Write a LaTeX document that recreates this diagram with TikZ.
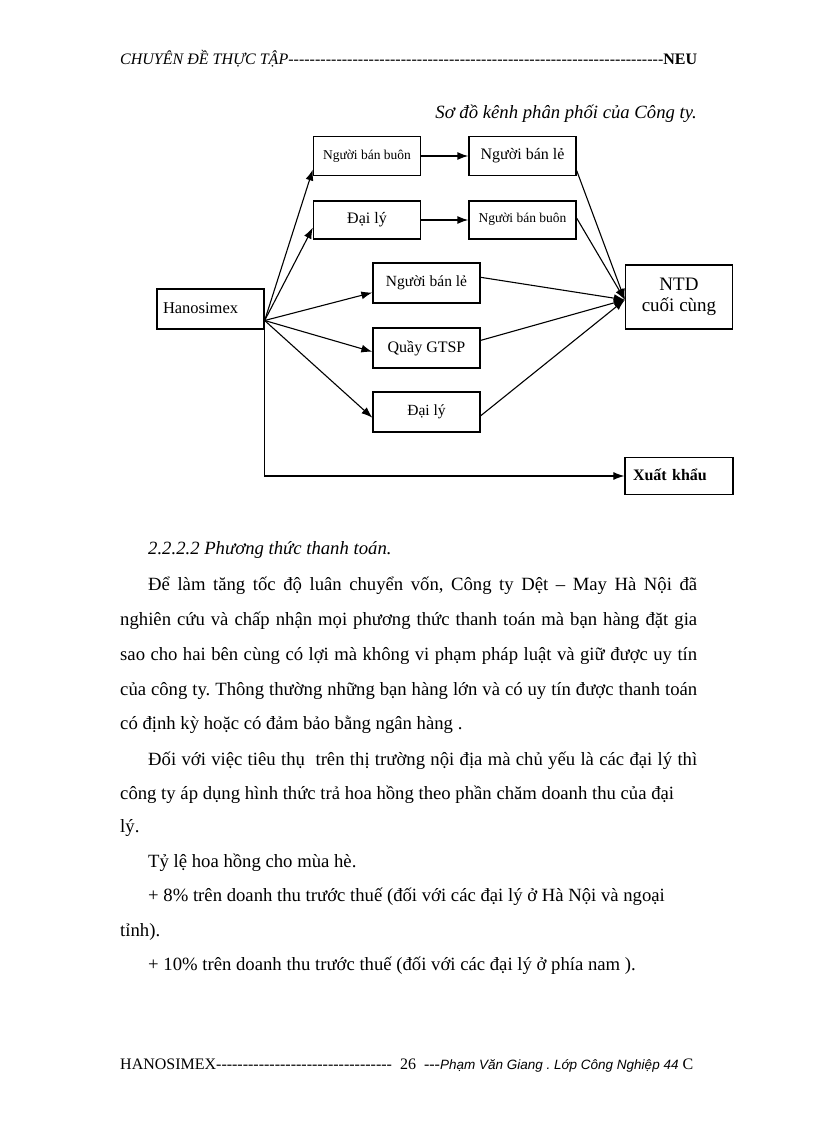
\documentclass[tikz,border=0pt]{standalone}
\usepackage{fontspec}
\setmainfont{Liberation Serif}
\newfontfamily\footsans{Liberation Sans}
\usetikzlibrary{arrows.meta}
\frenchspacing

\tikzset{
  kenh/.style={draw, line width=1.3pt, minimum width=107pt, minimum height=39pt, inner sep=2pt},
  dong/.style={-{Latex[length=11pt,width=8pt]}, line width=1.1pt},
  dong thang/.style={dong, line width=1.3pt},
  chu/.style={anchor=base west, inner sep=0pt, font=\fontsize{18.7}{21}\selectfont},
}

\begin{document}
\begin{tikzpicture}[x=1pt, y=-1pt]
  \useasboundingbox (0,0) rectangle (816,1123);

  % Đầu trang
  \node[anchor=base west, inner sep=0pt, font=\fontsize{16}{18}\selectfont] (dau) at (120,65)
    {\makebox[577pt]{\textit{CHUYÊN ĐỀ THỰC TẬP}\xleaders\hbox{\textit{-}}\hfill\textbf{NEU}}};

  % Tiêu đề sơ đồ
  \node[anchor=base east, inner sep=0pt, font=\fontsize{18.7}{21}\selectfont\itshape] (tieude) at (697,119)
    {Sơ đồ kênh phân phối của Công ty.};

  % Các kênh
  \node[kenh, font=\fontsize{13.5}{15}\selectfont, minimum height=39pt] (A) at (367,156) {Người bán buôn};
  \node[kenh, font=\fontsize{16}{18}\selectfont, minimum height=39pt] (B) at (522.5,156) {Người bán lẻ};
  \node[kenh, font=\fontsize{16}{18}\selectfont, minimum height=38pt] (C) at (367,220) {Đại lý};
  \node[kenh, font=\fontsize{13.5}{15}\selectfont, minimum height=38pt] (D) at (522.5,220) {\raisebox{4pt}{Người bán buôn}};
  \node[kenh, font=\fontsize{15.5}{17}\selectfont, minimum height=40pt] (E) at (426.5,283) {\raisebox{2pt}{Người bán lẻ}};
  \node[kenh, font=\fontsize{16}{18}\selectfont, minimum height=40pt] (F) at (426.5,348) {Quầy GTSP};
  \node[kenh, font=\fontsize{15.5}{17}\selectfont, minimum height=40pt] (G) at (426.5,412) {Đại lý};
  \node[kenh, font=\fontsize{16.5}{18}\selectfont, minimum height=40pt, text width=95pt, align=left] (H) at (210.5,309) {\raisebox{2pt}{Hanosimex}};
  \node[kenh, font=\fontsize{19}{21}\selectfont, minimum height=64pt, align=center] (N) at (679,297) {NTD\\cuối cùng};
  \node[kenh, font=\fontsize{16}{18}\selectfont\bfseries, minimum width=108pt, minimum height=37pt, text width=92pt, align=left] (X) at (679,476) {\raisebox{2pt}{Xuất khẩu}};

  % Từ Hanosimex
  \draw[dong] (H.-12) -- (A.194);
  \draw[dong] (H.-12) -- (C.188);
  \draw[dong] (H.-12) -- (E.190);
  \draw[dong] (H.-12) -- (F.184);
  \draw[dong] (H.-12) -- (G.186);
  \draw[dong thang] (A.east) -- (B.west);
  \draw[dong thang] (C.east) -- (D.west);

  % Tới người tiêu dùng
  \draw[dong] (B.-15) -- (N.183);
  \draw[dong] (D.2) -- (N.183);
  \draw[dong] (E.6) -- (N.183);
  \draw[dong] (F.8) -- (N.183);
  \draw[dong] (G.-4) -- (N.183);

  % Xuất khẩu
  \draw[dong] (H.south east) |- (X.west);

  % Nội dung
  \node[chu, font=\fontsize{18.7}{21}\selectfont\itshape] (l1) at (148,554) {2.2.2.2 Phương thức thanh toán.};
  \node[chu] (l2) at (148,590) {\makebox[549pt][s]{Để làm tăng tốc độ luân chuyển vốn, Công ty Dệt – May Hà Nội đã}};
  \node[chu] (l3) at (120,625) {\makebox[577pt][s]{nghiên cứu và chấp nhận mọi phương thức thanh toán mà bạn hàng đặt gia}};
  \node[chu] (l4) at (120,660) {\makebox[577pt][s]{sao cho hai bên cùng có lợi mà không vi phạm pháp luật và giữ được uy tín}};
  \node[chu] (l5) at (120,695) {\makebox[577pt][s]{của công ty. Thông thường những bạn hàng lớn và có uy tín được thanh toán}};
  \node[chu] (l6) at (120,729) {có định kỳ hoặc có đảm bảo bằng ngân hàng .};
  \node[chu] (l7) at (148,765) {\makebox[549pt][s]{Đối với việc tiêu thụ \ trên thị trường nội địa mà chủ yếu là các đại lý thì}};
  \node[chu] (l8) at (120,799) {công ty áp dụng hình thức trả hoa hồng theo phần chăm doanh thu của đại};
  \node[chu] (l9) at (120,832) {lý.};
  \node[chu] (l10) at (148,867) {Tỷ lệ hoa hồng cho mùa hè.};
  \node[chu] (l11) at (148,901) {+ 8\% trên doanh thu trước thuế (đối với các đại lý ở Hà Nội và ngoại};
  \node[chu] (l12) at (120,936) {tỉnh).};
  \node[chu] (l13) at (148,970) {+ 10\% trên doanh thu trước thuế (đối với các đại lý ở phía nam ).};

  % Chân trang
  \node[anchor=base west, inner sep=0pt, font=\fontsize{16}{18}\selectfont] (chan) at (120,1069)
    {HANOSIMEX{-}{-}{-}{-}{-}{-}{-}{-}{-}{-}{-}{-}{-}{-}{-}{-}{-}{-}{-}{-}{-}{-}{-}{-}{-}{-}{-}{-}{-}{-}{-}{-}{-}\ \ 26\ \ {-}{-}{-}{\footsans\itshape\fontsize{13.5}{16}\selectfont Phạm Văn Giang . Lớp Công Nghiệp 44} C};
\end{tikzpicture}
\end{document}
